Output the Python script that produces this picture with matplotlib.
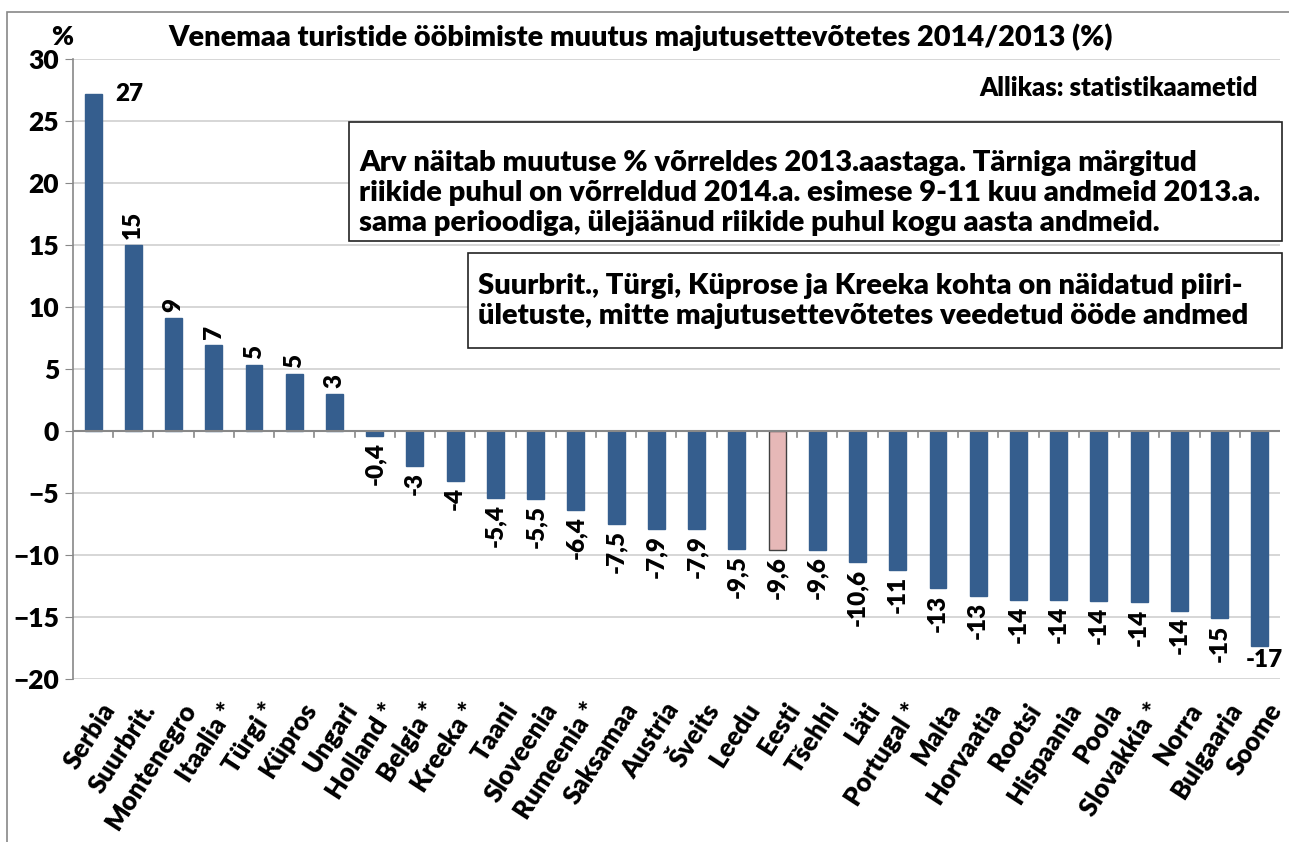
import numpy as np
import matplotlib.pyplot as plt
from matplotlib.patches import Rectangle

plt.rcParams['font.family'] = ['Lato', 'DejaVu Sans']
plt.rcParams['font.weight'] = 'heavy'

countries = ['Serbia', 'Suurbrit.', 'Montenegro', 'Itaalia *', 'Türgi *', 'Küpros',
             'Ungari', 'Holland *', 'Belgia *', 'Kreeka *', 'Taani', 'Sloveenia',
             'Rumeenia *', 'Saksamaa', 'Austria', 'Šveits', 'Leedu', 'Eesti',
             'Tšehhi', 'Läti', 'Portugal *', 'Malta', 'Horvaatia', 'Rootsi',
             'Hispaania', 'Poola', 'Slovakkia *', 'Norra', 'Bulgaaria', 'Soome']
change = [27.2, 15.0, 9.1, 6.9, 5.3, 4.6, 3.0, -0.4, -2.8, -4.0, -5.4, -5.5,
          -6.4, -7.5, -7.9, -7.9, -9.5, -9.6, -9.6, -10.6, -11.2, -12.7, -13.3,
          -13.6, -13.6, -13.7, -13.8, -14.5, -15.1, -17.3]
value_labels = ['27', '15', '9', '7', '5', '5', '3', '-0,4', '-3', '-4', '-5,4',
                '-5,5', '-6,4', '-7,5', '-7,9', '-7,9', '-9,5', '-9,6', '-9,6',
                '-10,6', '-11', '-13', '-13', '-14', '-14', '-14', '-14', '-14',
                '-15', '-17']
highlight = 'Eesti'

blue = '#355E8E'
pink = '#E6B8B7'

fig = plt.figure(figsize=(12.89, 8.42), dpi=100)
ax = fig.add_axes([0.0566, 0.1936, 0.9364, 0.7363])

x = np.arange(len(countries))
colors = [pink if c == highlight else blue for c in countries]
edges = ['#404040' if c == highlight else blue for c in countries]
ax.bar(x, change, width=0.42, color=colors, edgecolor=edges, linewidth=1.0, zorder=3)

ax.set_xlim(-0.5, len(countries) - 0.5)
ax.set_ylim(-20, 30)
ax.set_yticks(np.arange(-20, 31, 5))
ax.tick_params(axis='y', labelsize=19, length=6, color='#888888', pad=4)
ax.grid(axis='y', color='#D0D0D0', linewidth=1.2, zorder=0)

for s in ['top', 'right', 'bottom']:
    ax.spines[s].set_visible(False)
ax.spines['left'].set_color('#888888')
ax.spines['left'].set_linewidth(1.2)
ax.axhline(0, color='#888888', linewidth=1.5, zorder=4)

# category boundary ticks below the zero line
ax.set_xticks([])
for b in np.arange(0.5, len(countries) - 0.5, 1):
    ax.plot([b, b], [0, -0.5], color='#888888', linewidth=1.2, zorder=4)

# category labels under the axes
for xi, name in zip(x, countries):
    ax.text(xi + 0.17, -21.6, name, rotation=57, ha='right', va='top',
            rotation_mode='anchor', fontsize=18.5)

# value labels
for xi, v, lab in zip(x, change, value_labels):
    if xi == 0:
        ax.text(xi + 0.55, v, lab, ha='left', va='center', fontsize=17.5)
    elif xi == len(countries) - 1:
        ax.text(xi + 0.1, v - 0.3, lab, ha='center', va='top', fontsize=17.5)
    elif v >= 0:
        ax.text(xi, v + 0.5, lab, rotation=90, ha='center', va='bottom', fontsize=17.5)
    else:
        ax.text(xi, v - 0.5, lab, rotation=90, ha='center', va='top', fontsize=17.5)

fig.text(0.497, 0.956, 'Venemaa turistide ööbimiste muutus majutusettevõtetes 2014/2013 (%)',
         ha='center', va='center', fontsize=20.8)
fig.text(0.048, 0.956, '%', ha='center', va='center', fontsize=19)
fig.text(0.976, 0.895, 'Allikas: statistikaametid', ha='right', va='center', fontsize=18.5)

note1 = ('Arv näitab muutuse % võrreldes 2013.aastaga. Tärniga märgitud\n'
         'riikide puhul on võrreldud 2014.a. esimese 9-11 kuu andmeid 2013.a.\n'
         'sama perioodiga, ülejäänud riikide puhul kogu aasta andmeid.')
note2 = ('Suurbrit., Türgi, Küprose ja Kreeka kohta on näidatud piiri-\n'
         'ületuste, mitte majutusettevõtetes veedetud ööde andmed')

fig.patches.append(Rectangle((349 / 1289, 1 - 241 / 842), (1282 - 349) / 1289, 119 / 842,
                             transform=fig.transFigure, facecolor='white',
                             edgecolor='#222222', linewidth=1.2, zorder=5))
fig.text(359 / 1289, 1 - 193 / 842, note1, ha='left', va='center', fontsize=21,
         linespacing=1.2, zorder=6)
fig.patches.append(Rectangle((468 / 1289, 1 - 348 / 842), (1282 - 468) / 1289, 95 / 842,
                             transform=fig.transFigure, facecolor='white',
                             edgecolor='#222222', linewidth=1.2, zorder=5))
fig.text(478 / 1289, 1 - 301 / 842, note2, ha='left', va='center', fontsize=21,
         linespacing=1.2, zorder=6)

# chart area border
fig.patches.append(Rectangle((7 / 1289, -0.05), 1.2, 1.05 - 12 / 842,
                             transform=fig.transFigure, fill=False,
                             edgecolor='#888888', linewidth=1.2))

fig.savefig('out.png', dpi=100)
